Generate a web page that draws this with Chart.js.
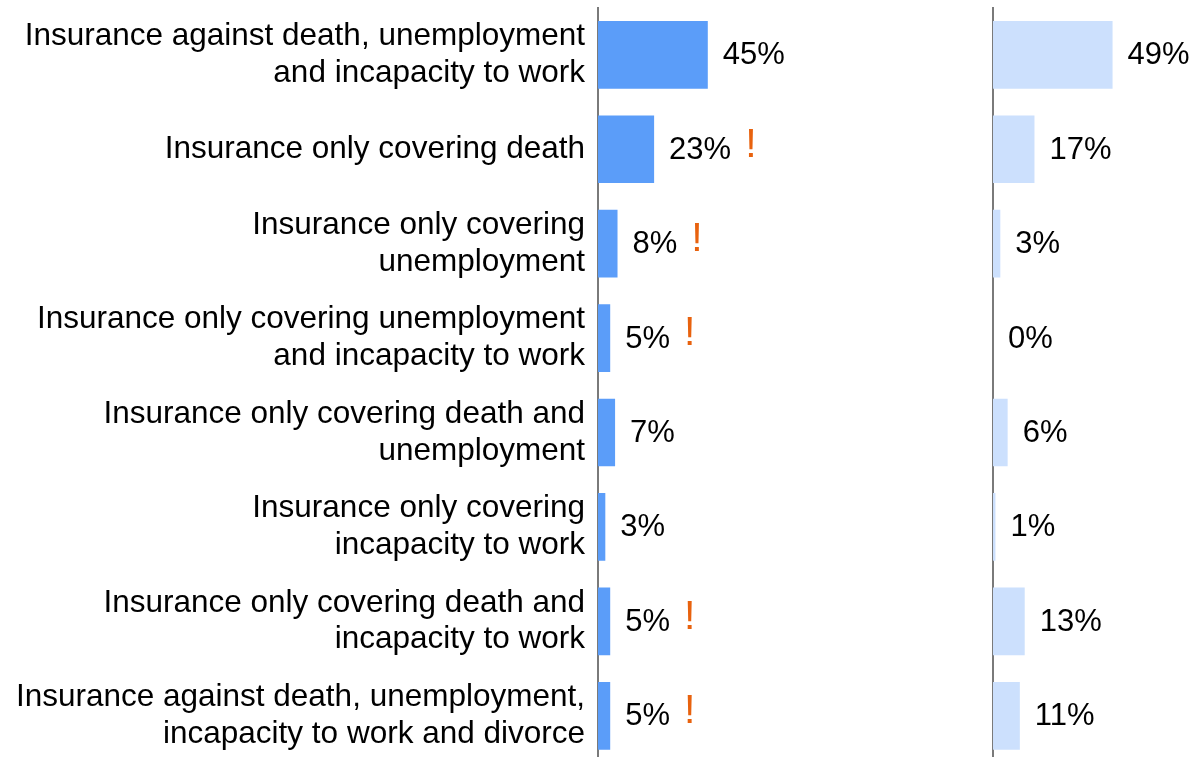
<!DOCTYPE html>
<html>
<head>
<meta charset="utf-8">
<script src="https://cdn.jsdelivr.net/npm/chart.js@4.4.1/dist/chart.umd.min.js"></script>
<style>
  html, body { margin: 0; padding: 0; background: #fff; }
  body { width: 1194px; height: 757px; overflow: hidden; position: relative; }
  .wrap { position: absolute; top: 0; height: 763px; }
  #leftWrap { left: 0; width: 980px; }
  #rightWrap { left: 983px; width: 211px; }
</style>
</head>
<body>
<div class="wrap" id="leftWrap"><canvas id="leftChart"></canvas></div>
<div class="wrap" id="rightWrap"><canvas id="rightChart"></canvas></div>

<script>
// data
const categories = [
  ["Insurance against death, unemployment", "and incapacity to work"],
  "Insurance only covering death",
  ["Insurance only covering", "unemployment"],
  ["Insurance only covering unemployment", "and incapacity to work"],
  ["Insurance only covering death and", "unemployment"],
  ["Insurance only covering", "incapacity to work"],
  ["Insurance only covering death and", "incapacity to work"],
  ["Insurance against death, unemployment,", "incapacity to work and divorce"]
];
const leftValues = [45, 23, 8, 5, 7, 3, 5, 5];
const rightValues = [49, 17, 3, 0, 6, 1, 13, 11];
const warningFlags = [false, true, true, true, false, false, true, true];

const FONT = "'Liberation Sans', Arial, sans-serif";
const PX_PER_PCT = 2.44;
const LEFT_AXIS_W = 598;
const RIGHT_AXIS_W = 10;

// value labels + orange "!" next to them
const valueLabels = {
  id: "valueLabels",
  afterDatasetsDraw(chart, args, opts) {
    const ctx = chart.ctx;
    const meta = chart.getDatasetMeta(0);
    const values = chart.data.datasets[0].data;
    ctx.save();
    meta.data.forEach((bar, i) => {
      const txt = values[i] + "%";
      const x = bar.x + 15;
      ctx.font = "31px " + FONT;
      ctx.fillStyle = "#000";
      ctx.textAlign = "left";
      ctx.textBaseline = "middle";
      ctx.fillText(txt, x, bar.y + 1);
      if (opts.flags && opts.flags[i]) {
        const w = ctx.measureText(txt).width;
        ctx.font = "41px " + FONT;
        ctx.fillStyle = "#E8620E";
        ctx.fillText("!", x + w + 14, bar.y - 4);
      }
    });
    ctx.restore();
  }
};

function makeChart(id, values, color, axisWidth, showLabels, flags) {
  const canvas = document.getElementById(id);
  const areaWidth = canvas.parentNode.clientWidth - axisWidth;
  return new Chart(canvas, {
    type: "bar",
    data: {
      labels: categories,
      datasets: [{
        data: values,
        backgroundColor: color,
        borderWidth: 0,
        barPercentage: 0.717,
        categoryPercentage: 1
      }]
    },
    options: {
      indexAxis: "y",
      responsive: true,
      maintainAspectRatio: false,
      animation: false,
      layout: { padding: { top: 7.6, bottom: 0, left: 0, right: 0 } },
      plugins: {
        legend: { display: false },
        tooltip: { enabled: false },
        valueLabels: { flags: flags }
      },
      scales: {
        x: {
          display: false,
          min: 0,
          max: areaWidth / PX_PER_PCT
        },
        y: {
          grid: { display: false, drawTicks: false },
          border: { display: true, color: "#7a7a7a", width: 2 },
          ticks: {
            display: showLabels,
            padding: 13,
            color: "#000",
            font: { family: FONT, size: 31.5, lineHeight: 1.17 }
          },
          afterFit(scale) {
            scale.width = axisWidth;
            scale.paddingTop = 0;
            scale.paddingBottom = 0;
          }
        }
      }
    },
    plugins: [valueLabels]
  });
}

makeChart("leftChart", leftValues, "#5B9DF9", LEFT_AXIS_W, true, warningFlags);
makeChart("rightChart", rightValues, "#CCE0FD", RIGHT_AXIS_W, false, null);
</script>
</body>
</html>
